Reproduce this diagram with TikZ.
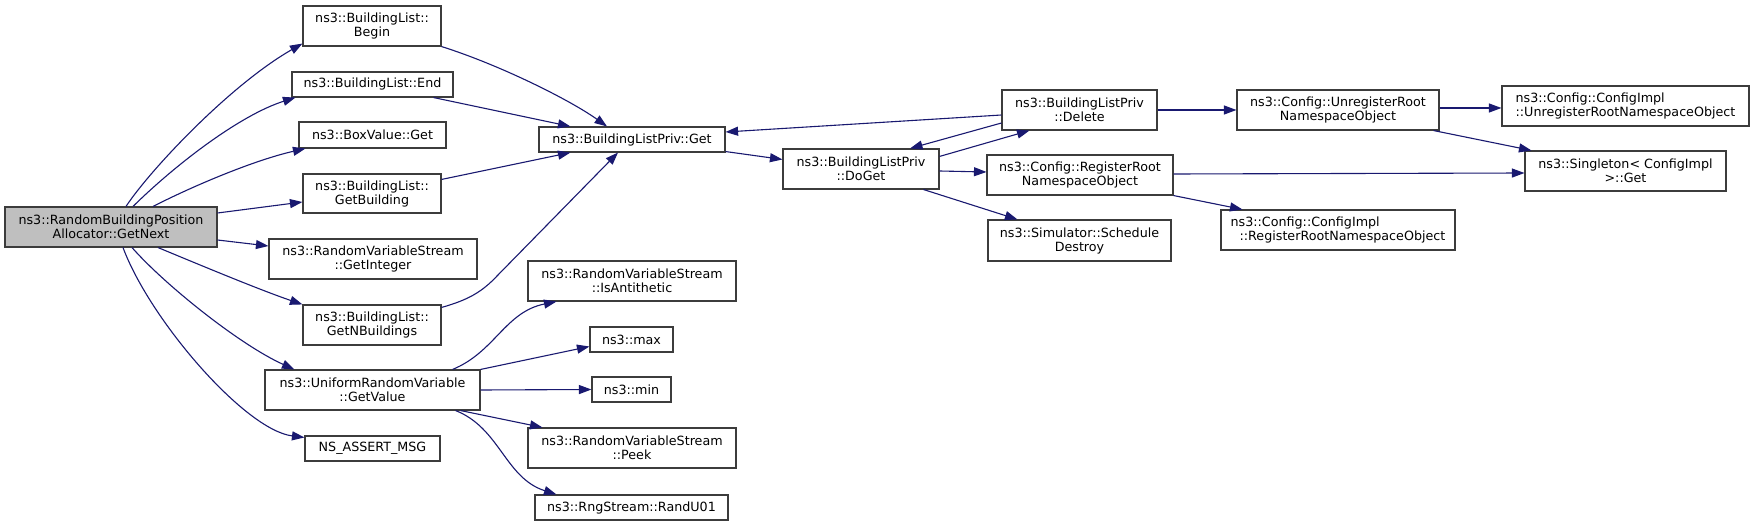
\documentclass[tikz,border=0pt]{standalone}
\usepackage{fontspec}
\setmainfont{DejaVu Sans}
\usetikzlibrary{arrows.meta,calc}
\definecolor{edgeblue}{HTML}{191970}
\definecolor{rootfill}{HTML}{BFBFBF}
\definecolor{boxline}{HTML}{3C3C3C}
\newcommand{\bnode}[7][]{\node[box,#1,minimum width={(#5-#3)*1pt},minimum height={(#6-#4)*1pt}] (#2) at ({(#3+#5)/2},{(#4+#6)/2}) {#7};}
\begin{document}
\begin{tikzpicture}[x=1pt,y=-1pt,
  box/.style={draw=boxline,line width=1.1pt,fill=white,inner sep=0pt,align=center,
    font=\fontsize{12.7}{14}\selectfont},
  rootbox/.style={fill=rootfill},
  leftbox/.style={align=left},
  edge/.style={draw=edgeblue,line width=1.1pt,-{Triangle[length=12.5pt,width=9pt]}}]
\useasboundingbox (0,0) rectangle (1755,526);
\fill[white] (0,0) rectangle (1755,526);
% nodes
\bnode[rootbox]{next}{5}{207}{217}{247}{ns3::RandomBuildingPosition\\Allocator::GetNext}
\bnode{begin}{303}{6}{441}{46}{ns3::BuildingList::\\Begin}
\bnode{end}{292}{72}{453}{97}{ns3::BuildingList::End}
\bnode{boxget}{299}{122}{446}{148}{ns3::BoxValue::Get}
\bnode{getbld}{303}{174}{441}{213}{ns3::BuildingList::\\GetBuilding}
\bnode{getint}{269}{239}{477}{279}{ns3::RandomVariableStream\\::GetInteger}
\bnode{getnb}{303}{305}{441}{345}{ns3::BuildingList::\\GetNBuildings}
\bnode{getval}{265}{370}{480}{410}{ns3::UniformRandomVariable\\::GetValue}
\bnode{assert}{305}{436}{440}{461}{NS\_ASSERT\_MSG}
\bnode{privget}{539}{127}{725}{152}{ns3::BuildingListPriv::Get}
\bnode{doget}{783}{149}{939}{189}{ns3::BuildingListPriv\\::DoGet}
\bnode{anti}{528}{261}{736}{301}{ns3::RandomVariableStream\\::IsAntithetic}
\bnode{max}{590}{327}{673}{352}{ns3::max}
\bnode{min}{592}{377}{671}{402}{ns3::min}
\bnode{peek}{528}{428}{736}{468}{ns3::RandomVariableStream\\::Peek}
\bnode{randu}{535}{495}{728}{520}{ns3::RngStream::RandU01}
\bnode{delete}{1002}{90}{1157}{130}{ns3::BuildingListPriv\\::Delete}
\bnode{unreg}{1237}{90}{1439}{130}{ns3::Config::UnregisterRoot\\NamespaceObject}
\bnode{reg}{987}{155}{1173}{195}{ns3::Config::RegisterRoot\\NamespaceObject}
\bnode{sched}{988}{220}{1171}{261}{ns3::Simulator::Schedule\\Destroy}
\bnode[leftbox]{implreg}{1221}{210}{1455}{250}{ns3::Config::ConfigImpl\\\hspace*{9pt}::RegisterRootNamespaceObject}
\bnode[leftbox]{implunreg}{1502}{86}{1749}{126}{ns3::Config::ConfigImpl\\::UnregisterRootNamespaceObject}
\bnode{single}{1525}{151}{1726}{191}{ns3::Singleton< ConfigImpl\\>::Get}
% edges
\draw[edge] ($(next.north)+(15,0)$) .. controls (150,170) and (230,85) .. ($(begin.south west)+(0,-3)$);
\draw[edge] ($(next.north)+(22,0)$) .. controls (175,165) and (240,115) .. ($(end.south west)+(4,0)$);
\draw[edge] ($(next.north)+(42,0)$) .. controls (195,185) and (255,160) .. ($(boxget.south west)+(7,0)$);
\draw[edge] ($(next.east)+(0,-14)$) -- ($(getbld.west)+(0,8.5)$);
\draw[edge] ($(next.east)+(0,13)$) -- ($(getint.west)+(0,-13)$);
\draw[edge] ($(next.south)+(47,0)$) .. controls (200,265) and (260,290) .. (getnb.north west);
\draw[edge] ($(next.south)+(21,0)$) .. controls (165,285) and (240,345) .. ($(getval.north west)+(30,0)$);
\draw[edge] ($(next.south)+(12,0)$) .. controls (150,320) and (245,430) .. ($(assert.north west)+(0,2)$);
\draw[edge] (begin.south east) .. controls (500,65) and (570,100) .. ($(privget.north)+(-25,0)$);
\draw[edge] ($(end.south east)+(-20,0)$) -- ($(privget.north west)+(32,0)$);
\draw[edge] ($(getbld.north east)+(0,6)$) -- ($(privget.south west)+(32,0)$);
\draw[edge] ($(getnb.north east)+(0,3)$) .. controls (468,300) and (482,292) .. (497,276) -- ($(privget.south)+(-14,0)$);
\draw[edge] ($(privget.south east)+(0,-1)$) -- ($(doget.north west)+(0,11)$);
\draw[edge] ($(delete.west)+(0,5)$) -- ($(privget.east)+(0,-7.5)$);
\draw[edge] ($(delete.west)+(0,13)$) -- ($(doget.north)+(49,0)$);
\draw[edge] ($(doget.north east)+(0,8)$) -- ($(delete.south west)+(28,0)$);
\draw[edge] ($(doget.east)+(0,2)$) -- ($(reg.west)+(0,-3)$);
\draw[edge] ($(doget.south east)+(-16,0)$) -- ($(sched.north west)+(30,0)$);
\draw[edge] (delete.east) -- (unreg.west);
\draw[edge] ($(unreg.east)+(0,-2)$) -- ($(implunreg.west)+(0,2)$);
\draw[edge] ($(unreg.south east)+(-6,0)$) -- ($(single.north west)+(7,0)$);
\draw[edge] ($(reg.east)+(0,-1)$) -- ($(single.west)+(0,2)$);
\draw[edge] (reg.south east) -- ($(implreg.north west)+(22,0)$);
\draw[edge] ($(getval.north east)+(-28,0)$) .. controls (495,352) and (505,312) .. ($(anti.south west)+(29,0)$);
\draw[edge] (getval.north east) -- ($(max.west)+(0,7)$);
\draw[edge] (getval.east) -- (min.west);
\draw[edge] ($(getval.south east)+(-20,0)$) -- ($(peek.north west)+(15,0)$);
\draw[edge] ($(getval.south east)+(-25,0)$) .. controls (500,428) and (505,478) .. ($(randu.north west)+(22,0)$);
\end{tikzpicture}
\end{document}
